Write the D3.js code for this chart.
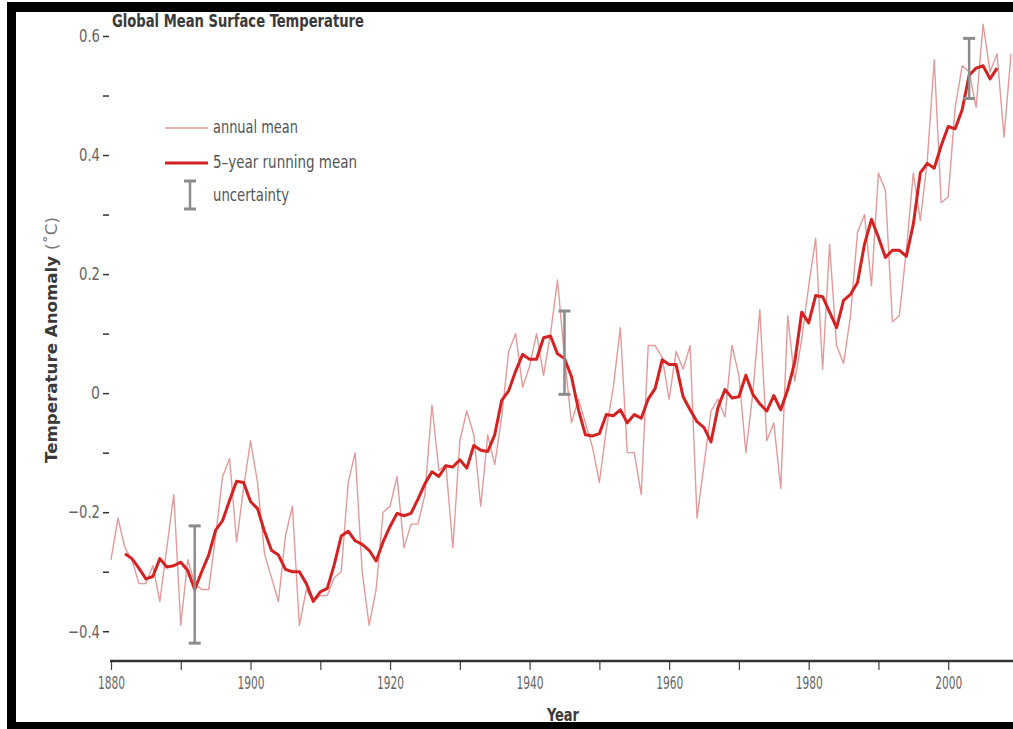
<!DOCTYPE html>
<html>
<head>
<meta charset="utf-8">
<script src="https://cdn.jsdelivr.net/npm/d3@7"></script>
<style>
  body { margin: 0; background: #fff; }
  svg { display: block; }
  text { font-family: "Liberation Sans Narrow", "DejaVu Sans Condensed", "DejaVu Sans", sans-serif; }
</style>
</head>
<body>
<div class="canvas"></div>
<script>
// values (deg C, relative to 1951-1980)
const firstYear = 1880;
const annual = [
  -0.28, -0.21, -0.26, -0.28, -0.32, -0.32, -0.29, -0.35, -0.26, -0.17,
  -0.39, -0.28, -0.32, -0.33, -0.33, -0.24, -0.14, -0.11, -0.25, -0.16,
  -0.08, -0.15, -0.27, -0.31, -0.35, -0.24, -0.19, -0.39, -0.33, -0.35,
  -0.34, -0.34, -0.31, -0.30, -0.15, -0.10, -0.30, -0.39, -0.33, -0.20,
  -0.19, -0.14, -0.26, -0.22, -0.22, -0.17, -0.02, -0.13, -0.12, -0.26,
  -0.08, -0.03, -0.07, -0.19, -0.07, -0.12, -0.04, 0.07, 0.10, 0.01,
  0.045, 0.10, 0.03, 0.10, 0.19, 0.06, -0.05, -0.01, -0.05, -0.09,
  -0.15, -0.06, 0.01, 0.11, -0.10, -0.10, -0.17, 0.08, 0.08, 0.06,
  -0.01, 0.07, 0.04, 0.08, -0.21, -0.12, -0.03, -0.01, -0.04, 0.08,
  0.03, -0.10, 0.00, 0.14, -0.08, -0.05, -0.16, 0.13, 0.02, 0.09,
  0.18, 0.26, 0.04, 0.25, 0.08, 0.05, 0.13, 0.27, 0.30, 0.18,
  0.37, 0.34, 0.12, 0.13, 0.24, 0.37, 0.29, 0.39, 0.56, 0.32,
  0.33, 0.48, 0.55, 0.54, 0.48, 0.62, 0.54, 0.57, 0.43, 0.57
];

// 5-year running mean, 1882 .. 2007
const runFirstYear = 1882;
const running = [
  -0.270, -0.278, -0.294, -0.312, -0.308, -0.278, -0.292, -0.290,
  -0.284, -0.298, -0.330, -0.300, -0.272, -0.230, -0.214, -0.180, -0.148, -0.150,
  -0.182, -0.194, -0.232, -0.264, -0.272, -0.296, -0.300, -0.300, -0.320, -0.350,
  -0.334, -0.328, -0.288, -0.240, -0.232, -0.248, -0.254, -0.264, -0.282, -0.250,
  -0.224, -0.202, -0.206, -0.202, -0.178, -0.152, -0.132, -0.140, -0.122, -0.124,
  -0.112, -0.126, -0.088, -0.096, -0.098, -0.070, -0.012, 0.004, 0.037, 0.065,
  0.057, 0.057, 0.093, 0.096, 0.066, 0.058, 0.028, -0.028, -0.070, -0.072,
  -0.068, -0.036, -0.038, -0.028, -0.050, -0.036, -0.042, -0.010, 0.008, 0.056,
  0.048, 0.048, -0.006, -0.028, -0.048, -0.058, -0.082, -0.024, 0.006, -0.008,
  -0.006, 0.030, -0.002, -0.018, -0.030, -0.004, -0.028, 0.006, 0.052, 0.136,
  0.118, 0.164, 0.162, 0.136, 0.110, 0.156, 0.166, 0.186, 0.250, 0.292,
  0.262, 0.228, 0.240, 0.240, 0.230, 0.284, 0.370, 0.386, 0.378, 0.416,
  0.448, 0.444, 0.476, 0.534, 0.546, 0.550, 0.528, 0.546
];

const uncYears = [1892, 1945, 2003];
const uncLow = [-0.42, -0.002, 0.495];
const uncHigh = [-0.223, 0.138, 0.596];

const yMajor = [0.6, 0.4, 0.2, 0, -0.2, -0.4];
const yMinor = [0.5, 0.3, 0.1, -0.1, -0.3];
const xTicks = [1880, 1890, 1900, 1910, 1920, 1930, 1940, 1950, 1960, 1970, 1980, 1990, 2000];
const xLabels = [1880, 1900, 1920, 1940, 1960, 1980, 2000];
const legendText = ["annual mean", "5\u2013year running mean", "uncertainty"];

const svgWidth = 1013;
const svgHeight = 729;

const annualColor = "#e39a9a";
const runColor = "#d42222";
const uncColor = "#8c8c8c";

// the original uses a narrow face; squeeze DejaVu to the same widths
const narrow = (sel, w) => sel.attr("textLength", w).attr("lengthAdjust", "spacingAndGlyphs");

const svg = d3
  .select(".canvas")
  .append("svg")
  .attr("width", svgWidth)
  .attr("height", svgHeight);

const x = d3.scaleLinear().domain([1880, 2009]).range([111, 1011]);
const y = d3.scaleLinear().domain([-0.45, 0.6]).range([661, 36]);

// title
svg.append("text")
  .attr("x", 112)
  .attr("y", 27)
  .attr("font-size", 18)
  .attr("font-weight", "bold")
  .attr("fill", "#3a3a3a")
  .call(narrow, 252)
  .text("Global Mean Surface Temperature");

// y axis: labelled ticks and unlabelled half steps
const fmt = d => (d === 0 ? "0" : d3.format(".1f")(d).replace("-", "\u2212"));
const yAxis = svg.append("g")
  .attr("transform", "translate(109,0)")
  .call(d3.axisLeft(y).tickValues(yMajor).tickSize(6).tickPadding(3).tickFormat(fmt));
yAxis.select(".domain").remove();
yAxis.selectAll("line").attr("stroke", "#333").attr("stroke-width", 1.5);
yAxis.selectAll("text")
  .attr("font-size", 18)
  .attr("fill", "#666")
  .each(function (d) {
    d3.select(this).call(narrow, d < 0 ? 32 : d === 0 ? 9 : 21);
  });

const yMinorAxis = svg.append("g")
  .attr("transform", "translate(109,0)")
  .call(d3.axisLeft(y).tickValues(yMinor).tickSize(6).tickFormat(""));
yMinorAxis.select(".domain").remove();
yMinorAxis.selectAll("line").attr("stroke", "#333").attr("stroke-width", 1.5);

svg.append("text")
  .attr("transform", "translate(57,340) rotate(-90)")
  .attr("text-anchor", "middle")
  .attr("font-size", 15)
  .attr("fill", "#3a3a3a")
  .style("font-family", "'DejaVu Sans', sans-serif")
  .call(narrow, 246)
  .call(t => {
    t.append("tspan").attr("font-weight", "bold").text("Temperature Anomaly ");
    t.append("tspan").attr("fill", "#777").text("(\u02daC)");
  });

// x axis
const xAxisGroup = svg.append("g")
  .attr("transform", "translate(0,661)")
  .call(d3.axisBottom(x).tickValues(xTicks).tickSize(9).tickPadding(6)
    .tickFormat(d => (xLabels.includes(d) ? d : "")));
xAxisGroup.select(".domain").remove();
xAxisGroup.selectAll("line").attr("stroke", "#444").attr("stroke-width", 1.2);
xAxisGroup.selectAll("text")
  .attr("font-size", 18)
  .attr("fill", "#666")
  .filter(d => xLabels.includes(d))
  .call(narrow, 27);

svg.append("line")
  .attr("x1", 110).attr("x2", svgWidth)
  .attr("y1", 661).attr("y2", 661)
  .attr("stroke", "#333").attr("stroke-width", 2.5);

svg.append("text")
  .attr("x", 563)
  .attr("y", 721)
  .attr("text-anchor", "middle")
  .attr("font-size", 18)
  .attr("font-weight", "bold")
  .attr("fill", "#3a3a3a")
  .call(narrow, 32)
  .text("Year");

// data lines
const line = d3.line()
  .x(d => x(d.year))
  .y(d => y(d.value));

const annualData = annual.map((v, i) => ({ year: firstYear + i, value: v }));
const runData = running.map((v, i) => ({ year: runFirstYear + i, value: v }));

svg.append("path")
  .datum(annualData)
  .attr("fill", "none")
  .attr("stroke", annualColor)
  .attr("stroke-width", 1.4)
  .attr("stroke-linejoin", "round")
  .attr("d", line);

svg.append("path")
  .datum(runData)
  .attr("fill", "none")
  .attr("stroke", runColor)
  .attr("stroke-width", 3)
  .attr("stroke-linejoin", "round")
  .attr("d", line);

// uncertainty bars
const unc = svg.append("g")
  .selectAll("g")
  .data(uncYears)
  .enter()
  .append("g")
  .attr("stroke", uncColor);

unc.append("line")
  .attr("x1", d => x(d)).attr("x2", d => x(d))
  .attr("y1", (d, i) => y(uncLow[i])).attr("y2", (d, i) => y(uncHigh[i]))
  .attr("stroke-width", 2.5);
unc.append("line")
  .attr("x1", d => x(d) - 6).attr("x2", d => x(d) + 6)
  .attr("y1", (d, i) => y(uncHigh[i])).attr("y2", (d, i) => y(uncHigh[i]))
  .attr("stroke-width", 3);
unc.append("line")
  .attr("x1", d => x(d) - 6).attr("x2", d => x(d) + 6)
  .attr("y1", (d, i) => y(uncLow[i])).attr("y2", (d, i) => y(uncLow[i]))
  .attr("stroke-width", 3);

// legend
const legend = svg.append("g").attr("class", "legend");
legend.append("line")
  .attr("x1", 165).attr("x2", 208).attr("y1", 128).attr("y2", 128)
  .attr("stroke", annualColor).attr("stroke-width", 1.4);
legend.append("line")
  .attr("x1", 165).attr("x2", 208).attr("y1", 163).attr("y2", 163)
  .attr("stroke", runColor).attr("stroke-width", 3);
legend.append("line")
  .attr("x1", 190).attr("x2", 190).attr("y1", 181).attr("y2", 209)
  .attr("stroke", uncColor).attr("stroke-width", 2.5);
legend.append("line")
  .attr("x1", 184).attr("x2", 196).attr("y1", 181).attr("y2", 181)
  .attr("stroke", uncColor).attr("stroke-width", 3);
legend.append("line")
  .attr("x1", 184).attr("x2", 196).attr("y1", 209).attr("y2", 209)
  .attr("stroke", uncColor).attr("stroke-width", 3);

legend.selectAll("text.item")
  .data(legendText)
  .enter()
  .append("text")
  .attr("class", "item")
  .attr("x", 213)
  .attr("y", (d, i) => [133, 168, 201][i])
  .attr("font-size", 17)
  .attr("fill", "#555")
  .attr("textLength", (d, i) => [85, 144, 76][i])
  .attr("lengthAdjust", "spacingAndGlyphs")
  .text(d => d);

// black frame
svg.append("rect").attr("x", 7).attr("y", 2).attr("width", svgWidth - 7).attr("height", 10).attr("fill", "#000");
svg.append("rect").attr("x", 7).attr("y", 2).attr("width", 9).attr("height", svgHeight - 2).attr("fill", "#000");
svg.append("rect").attr("x", 7).attr("y", 722).attr("width", svgWidth - 7).attr("height", 7).attr("fill", "#000");
</script>
</body>
</html>
